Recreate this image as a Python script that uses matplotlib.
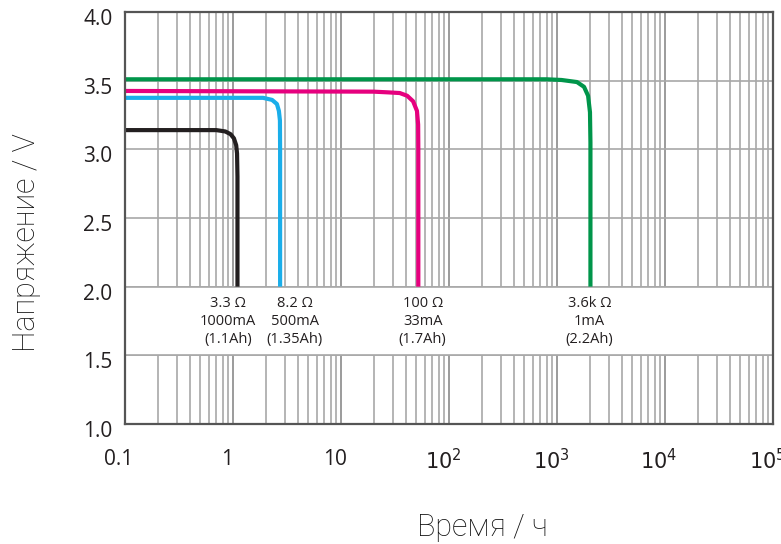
import matplotlib
matplotlib.use("Agg")
import matplotlib.pyplot as plt
from matplotlib.transforms import ScaledTranslation
from matplotlib.patches import Rectangle
from matplotlib.ticker import FixedLocator, FixedFormatter, LogLocator, NullFormatter
import numpy as np

# ---- data ----
black_t = [0.1, 0.7, 0.85, 0.95, 1.02, 1.07, 1.09, 1.10, 1.10]
black_v = [3.14, 3.14, 3.13, 3.11, 3.08, 3.03, 2.97, 2.80, 2.00]

blue_t = [0.1, 1.9, 2.3, 2.55, 2.66, 2.72, 2.73, 2.73]
blue_v = [3.375, 3.375, 3.36, 3.33, 3.28, 3.21, 3.00, 2.00]

magenta_t = [0.1, 20.0, 27.0, 35.0, 41.0, 46.5, 50.5, 51.8, 52.0, 52.0]
magenta_v = [3.425, 3.42, 3.415, 3.41, 3.39, 3.35, 3.28, 3.18, 3.00, 2.00]

green_t = [0.1, 800.0, 1100.0, 1530.0, 1780.0, 1940.0, 2020.0, 2040.0, 2040.0]
green_v = [3.51, 3.51, 3.505, 3.49, 3.455, 3.39, 3.27, 3.05, 2.00]

series = [
    (black_t, black_v, "#231f20"),
    (blue_t, blue_v, "#1aaeea"),
    (magenta_t, magenta_v, "#e6007e"),
    (green_t, green_v, "#00954a"),
]

ann_x = [0.9, 3.75, 57.0, 2000.0]
ann_text = [
    "3.3 Ω\n1000mA\n(1.1Ah)",
    "8.2 Ω\n500mA\n(1.35Ah)",
    "100 Ω\n33mA\n(1.7Ah)",
    "3.6k Ω\n1mA\n(2.2Ah)",
]

xticks = [0.1, 1, 10, 100, 1000, 10000, 100000]
xtick_labels = ["0.1", "1", "10", "$10^2$", "$10^3$", "$10^4$", "$10^5$"]
yticks = [1.0, 1.5, 2.0, 2.5, 3.0, 3.5, 4.0]
ytick_labels = ["1.0", "1.5", "2.0", "2.5", "3.0", "3.5", "4.0"]

# ---- figure ----
fig = plt.figure(figsize=(7.81, 5.44), dpi=100)
ax = fig.add_axes([125 / 781, 1 - 424 / 544, 648 / 781, 412 / 544])
ax.set_xscale("log")
ax.set_xlim(0.1, 1e5)
ax.set_ylim(1.0, 4.0)

grid_col = "#a0a0a0"
ax.xaxis.set_major_locator(FixedLocator(xticks))
ax.xaxis.set_major_formatter(FixedFormatter(xtick_labels))
ax.xaxis.set_minor_locator(LogLocator(base=10, subs=np.arange(2, 10)))
ax.xaxis.set_minor_formatter(NullFormatter())
ax.yaxis.set_major_locator(FixedLocator(yticks))
ax.yaxis.set_major_formatter(FixedFormatter(ytick_labels))
ax.set_axisbelow(True)
ax.grid(True, which="major", axis="x", color="#8a8a8a", lw=1.2)
ax.grid(True, which="minor", axis="x", color=grid_col, lw=1.1)
ax.grid(True, which="major", axis="y", color="#a8a8a8", lw=1.2)

# white band for annotations
band = Rectangle((0, 1.5), 1, 0.5, transform=ax.get_yaxis_transform(),
                 facecolor="white", edgecolor="none", zorder=1)
ax.add_patch(band)
for yv in (1.5, 2.0):
    ax.axhline(yv, color="#a8a8a8", lw=1.2, zorder=1.5)

for t, v, c in series:
    ax.plot(t, v, color=c, lw=3.0, solid_capstyle="butt", solid_joinstyle="round", zorder=3)

for x, s in zip(ann_x, ann_text):
    ax.text(x, 1.745, s, ha="center", va="center", fontsize=10.5,
            family=["Open Sans", "DejaVu Sans"], color="#231f20", linespacing=1.3, zorder=4)

for sp in ax.spines.values():
    sp.set_color("#555555")
    sp.set_linewidth(1.6)
    sp.set_zorder(5)

ax.tick_params(axis="both", which="both", length=0)
ax.tick_params(axis="x", labelsize=15, pad=18, labelcolor="#231f20")
ax.tick_params(axis="y", labelsize=15, pad=9, labelcolor="#231f20")
for lab in ax.get_xticklabels():
    lab.set_family(["Open Sans", "DejaVu Sans"])
    lab.set_transform(lab.get_transform() + ScaledTranslation(-0.06, 0, fig.dpi_scale_trans))
for lab in ax.get_yticklabels():
    lab.set_family(["Open Sans", "DejaVu Sans"])
    lab.set_transform(lab.get_transform() + ScaledTranslation(0, -0.05, fig.dpi_scale_trans))

fig.text(27 / 781, 1 - 243 / 544, "Напряжение / V", rotation=90, ha="center", va="center",
         fontsize=22, family=["Roboto", "DejaVu Sans"], fontweight="light", color="#111111")
fig.text(482 / 781, 1 - 527 / 544, "Время / ч", ha="center", va="center",
         fontsize=22, family=["Roboto", "DejaVu Sans"], fontweight="light", color="#111111")

fig.savefig("out.png", dpi=100)
